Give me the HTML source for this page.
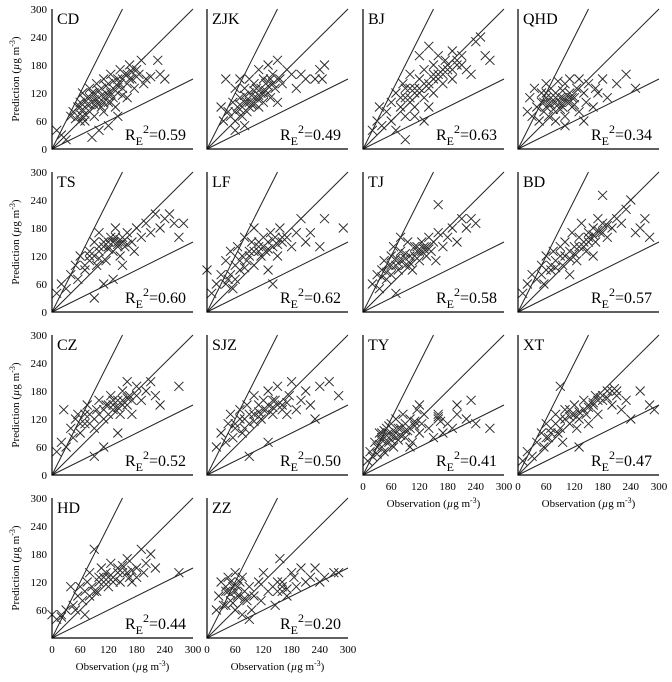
<!DOCTYPE html>
<html><head><meta charset="utf-8"><style>
body{margin:0;background:#fff;}
svg{display:block;font-family:"Liberation Serif",serif;}
</style></head><body>
<svg id="chart" width="672" height="682" viewBox="0 0 672 682" xmlns="http://www.w3.org/2000/svg"></svg>
<script>
const panelNames = ["CD","ZJK","BJ","QHD","TS","LF","TJ","BD","CZ","SJZ","TY","XT","HD","ZZ"];
const r2Values = ["0.59","0.49","0.63","0.34","0.60","0.62","0.58","0.57","0.52","0.50","0.41","0.47","0.44","0.20"];
const tickLabels = [0,60,120,180,240,300];
const refSlopes = [2,1,0.5];
const pCD=[10,40,20,30,30,20,40,70,45,80,50,65,55,90,60,75,60,100,65,120,70,60,70,90,75,110,80,130,80,80,85,100,90,70,90,120,95,140,100,95,100,110,105,130,110,80,110,150,115,120,120,100,120,140,125,160,130,110,130,130,135,90,140,150,140,120,145,170,150,130,155,160,160,110,160,140,165,180,170,150,175,130,180,170,185,160,190,190,195,140,200,150,210,155,225,190,230,160,240,150,120,50,100,40,85,25,140,70,60,60,70,75,90,95,105,115,125,120,150,150,80,110,65,85,75,95,85,120,95,105,100,125,110,100,115,135,120,115,130,145,135,125,145,140,150,115,60,90,70,105,80,95,90,105,55,70,65,70,105,90,115,105,125,100,140,135,160,160,165,150,170,165,180,155];
const pZJK=[30,90,35,60,40,150,45,80,50,70,55,100,60,60,60,130,65,90,70,110,70,150,75,70,80,100,80,130,85,80,90,120,90,150,95,95,100,110,100,140,105,130,110,90,110,170,115,120,120,100,120,150,125,140,130,180,130,120,135,110,140,160,145,130,150,190,150,100,155,150,160,140,170,170,180,160,190,130,200,160,210,150,230,150,240,170,250,180,245,150,60,40,80,50,100,125,110,115,90,100,70,85,130,145,75,90,85,100,95,115,105,110,115,130,125,125,135,150,140,140,100,95,110,105,120,120,130,135,60,80,70,95,80,115,90,90];
const pBJ=[20,40,30,60,35,90,40,50,50,80,60,100,60,60,70,120,70,40,80,90,85,140,90,110,90,70,100,130,100,160,110,120,110,90,120,150,120,200,130,110,130,170,140,140,140,220,150,180,150,120,160,160,160,200,170,140,175,190,180,170,190,210,190,150,200,180,210,200,220,170,230,160,240,230,250,240,260,200,270,190,140,90,130,60,90,20,110,70,120,130,150,150,170,170,100,110,110,130,120,120,130,140,140,130,150,160,160,150,170,160,180,180,190,170,200,190,210,180,80,110,90,130,100,100];
const pQHD=[20,80,25,110,30,70,35,130,40,90,45,60,50,100,50,120,55,80,60,140,60,110,65,70,70,95,70,130,75,115,80,60,80,100,85,145,90,110,90,85,95,125,100,70,100,140,105,100,110,120,110,150,115,90,120,110,125,130,130,80,130,150,140,120,145,100,150,140,160,90,165,130,170,120,180,150,190,110,210,140,230,160,250,130,140,60,100,50,75,100,85,105,95,110,65,95,55,100,60,90,70,110,75,85,80,120,85,95,90,100,95,90,100,105,105,115,110,100,115,110,120,95,60,120,80,110];
const pTS=[10,40,20,60,30,50,40,80,50,100,55,70,60,120,70,90,80,110,80,130,90,150,95,100,100,130,100,170,110,140,115,110,120,150,125,160,130,130,135,180,140,150,145,120,150,160,155,140,160,170,170,150,175,130,180,180,190,160,200,190,210,170,220,210,230,180,240,200,250,210,260,190,270,160,280,190,130,70,110,60,90,30,150,100,120,140,140,145,100,115,110,150,120,135,130,150,140,140,150,150,160,145,135,160,145,155,90,120,100,140,70,100,80,120];
const pLF=[0,90,10,40,20,60,30,80,40,110,45,70,50,130,55,50,60,100,65,140,70,90,75,120,80,160,85,110,90,130,95,150,100,100,100,180,110,140,115,120,120,160,125,130,130,150,135,170,140,140,145,160,150,120,155,180,160,150,170,160,180,140,190,170,200,200,210,150,220,170,240,140,250,200,290,180,130,90,140,60,60,70,80,95,110,130,100,130,110,150,120,140,130,135,140,155,150,145,160,160,90,120,70,110,50,80,40,60];
const pTJ=[20,60,30,80,35,50,40,90,45,110,50,70,55,100,60,120,60,80,65,140,70,100,75,90,80,130,80,160,85,110,90,100,95,150,100,120,105,90,110,140,115,130,120,110,125,150,130,140,135,120,140,160,145,130,150,150,155,110,160,170,170,140,180,160,190,180,200,150,210,200,220,180,230,200,240,190,160,230,70,40,75,105,90,115,120,130,130,135,60,100,70,115,80,110,90,125,100,105,110,120,115,140,120,135,125,130,135,140,140,135,50,85,40,75];
const pBD=[10,40,20,60,30,80,40,70,50,100,55,60,60,120,70,90,75,130,80,110,90,140,95,100,100,150,110,130,115,170,120,140,125,110,130,160,135,190,140,150,145,130,150,170,160,180,165,150,170,200,175,170,180,190,190,160,200,180,210,200,220,190,230,220,240,240,250,170,260,180,270,200,280,160,180,250,110,80,160,120,90,120,130,140,150,150,60,90,70,100,80,95,100,120,110,115,120,125,140,140,150,160,160,165,170,175,180,170,190,185,50,80];
const pCZ=[10,50,20,70,25,140,30,60,40,100,45,80,50,120,55,130,60,90,70,110,75,150,80,130,90,100,95,140,100,160,110,120,115,150,120,130,125,170,130,140,140,160,145,130,150,180,160,150,165,170,170,130,180,190,190,160,200,180,210,200,220,170,230,150,270,190,140,90,110,60,90,40,160,200,130,150,150,160,80,110,90,120,100,130,110,140,120,150,130,160,140,145,150,150,160,165,170,160,180,170,60,110,70,130];
const pSJZ=[20,60,30,90,40,70,45,110,50,130,55,80,60,100,70,140,75,90,80,120,85,150,90,110,100,130,100,170,110,150,115,120,120,160,125,140,130,180,140,130,145,160,150,190,160,150,170,130,175,170,180,200,190,140,200,160,210,180,220,150,230,120,240,190,260,200,280,170,130,70,90,40,110,125,140,145,60,110,70,120,80,100,90,130,100,115,110,135,120,140,130,150,140,160,150,150,160,140,170,155];
const pTY=[10,30,15,50,20,40,25,70,30,60,35,90,40,80,45,50,50,100,55,70,60,110,60,85,65,60,70,120,70,90,75,75,80,100,85,130,90,80,90,110,95,95,100,120,105,70,110,105,115,140,120,90,125,110,130,130,140,100,150,80,160,120,170,90,180,110,190,100,200,130,220,120,240,110,270,100,120,150,100,60,230,160,200,150,40,75,50,85,160,125,30,45,35,65,40,60,45,80,50,70,55,90,60,75,65,95,70,80,75,100,80,85,85,105,90,95,100,100,110,115,45,95,55,105,40,90,160,130,165,115];
const pXT=[10,30,20,50,30,40,40,70,50,90,55,60,60,110,65,80,70,100,80,130,85,90,90,120,95,70,100,140,110,110,115,130,120,150,125,100,130,120,140,160,145,130,150,110,160,150,165,170,170,130,180,160,190,180,200,150,210,170,220,140,230,160,240,120,260,180,280,150,290,140,90,190,130,60,110,140,150,145,175,165,60,80,70,90,80,110,90,100,100,120,110,125,120,130,130,135,140,140,150,150,160,155,170,160,180,170,190,165,200,180,205,185,210,180];
const pHD=[0,50,10,40,20,50,30,60,40,110,45,70,50,60,55,90,60,110,65,80,70,100,75,120,80,140,85,110,90,190,95,100,100,130,105,150,110,120,115,140,120,110,125,160,130,130,140,150,145,120,150,140,160,170,165,130,170,120,180,150,190,190,195,140,200,160,210,180,220,150,270,140,70,50,120,130,135,125,100,120,110,130,115,125,125,135,130,120,140,140,150,155,160,140,170,145,180,130,90,100,80,90,20,45];
const pZZ=[20,60,25,90,30,120,35,70,40,100,45,130,50,80,55,110,60,60,60,140,65,90,70,120,75,50,80,100,85,80,90,110,95,60,100,90,110,120,115,80,120,140,130,100,140,110,145,70,150,120,155,170,160,100,170,90,180,140,190,110,200,150,210,120,220,130,230,150,240,120,250,130,270,140,280,140,90,40,50,95,60,115,160,110,40,70,45,100,50,120,55,75,60,100,65,110,70,90,75,130,80,85,40,110,150,100,160,120,170,105,185,130];
const panelPoints=[pCD,pZJK,pBJ,pQHD,pTS,pLF,pTJ,pBD,pCZ,pSJZ,pTY,pXT,pHD,pZZ];

const NS="http://www.w3.org/2000/svg";
const svg=document.getElementById('chart');
const colLeft=[52,207,363,518], rowTop=[9,172,335,498], W=141, H=140;
function mk(tag,attrs,parent){const e=document.createElementNS(NS,tag);for(const k in attrs)e.setAttribute(k,attrs[k]);(parent||svg).appendChild(e);return e;}
panelNames.forEach((name,i)=>{
  const c=i%4, r=Math.floor(i/4);
  const x0=colLeft[c], y0=rowTop[r];
  const sx=v=>x0+v/300*W, sy=v=>y0+H-v/300*H;
  const g=mk('g',{});
  
  
  refSlopes.forEach(s=>{
    const xe=Math.min(300,300/s), ye=xe*s;
    const l=mk('line',{x1:sx(0),y1:sy(0),x2:sx(xe),y2:sy(ye),stroke:'#222','stroke-width':1},g);
    
    
  });
  const pts=panelPoints[i];
  let d='';
  for(let k=0;k<pts.length;k+=2){const px=sx(pts[k]),py=sy(pts[k+1]);d+=`M${px-4.5} ${py-4.5}L${px+4.5} ${py+4.5}M${px+4.5} ${py-4.5}L${px-4.5} ${py+4.5}`;}
  const m=mk('path',{d:d,stroke:'#2a2a2a','stroke-width':1,fill:'none'},g);
  
  
  const ax=mk('path',{d:`M${x0} ${y0}L${x0} ${y0+H}L${x0+W} ${y0+H}`,stroke:'#000','stroke-width':1.2,fill:'none'},g);
  
  
  const t=mk('text',{x:x0+5,y:y0+15,'font-size':16},g);t.textContent=name;
  
  
  const rt=mk('text',{x:x0+73,y:y0+H-9,'font-size':16},g);
  rt.innerHTML='R<tspan dy="5" font-size="12">E</tspan><tspan dy="-12" font-size="12">2</tspan><tspan dy="7">='+r2Values[i]+'</tspan>';
  
  
  if(c===0){
    tickLabels.forEach(v=>{
      if(r===3&&v===0)return;
      const tl=mk('text',{x:x0-5,y:sy(v)+4,'font-size':11,'text-anchor':'end'},g);tl.textContent=v;
      
      
    });
    const yt=mk('text',{x:0,y:0,'font-size':11,'text-anchor':'middle',transform:`translate(19,${y0+H/2}) rotate(-90)`},g);
    yt.innerHTML='Prediction (<tspan font-style="italic">µ</tspan>g m<tspan dy="-4" font-size="8">-3</tspan><tspan dy="4">)</tspan>';
    
    
  }
  if(r===3||(r===2&&c>=2)){
    tickLabels.forEach(v=>{
      const tl=mk('text',{x:sx(v),y:y0+H+15,'font-size':11,'text-anchor':'middle'},g);tl.textContent=v;
      
      
    });
    const xt=mk('text',{x:x0+W/2,y:y0+H+32,'font-size':11,'text-anchor':'middle'},g);
    xt.innerHTML='Observation (<tspan font-style="italic">µ</tspan>g m<tspan dy="-4" font-size="8">-3</tspan><tspan dy="4">)</tspan>';
    
    
  }
});
</script>
</body></html>
